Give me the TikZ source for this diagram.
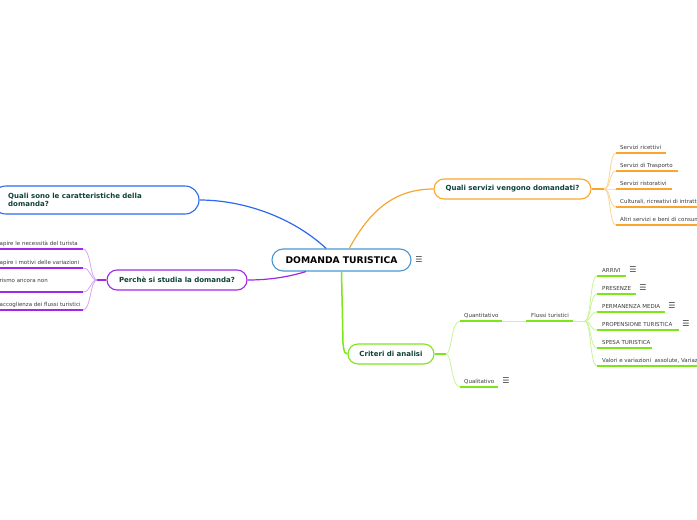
\documentclass[tikz,border=0pt]{standalone}
\usepackage{fontspec}
\setmainfont{DejaVu Sans}
\usetikzlibrary{calc}
\definecolor{cBlue}{RGB}{45,105,240}
\definecolor{cMain}{RGB}{75,150,210}
\definecolor{cOrange}{RGB}{250,165,45}
\definecolor{cOrangeL}{RGB}{253,212,150}
\definecolor{cPurple}{RGB}{160,40,230}
\definecolor{cPurpleL}{RGB}{215,165,245}
\definecolor{cGreen}{RGB}{125,230,25}
\definecolor{cGreenL}{RGB}{200,245,150}
\definecolor{tdark}{RGB}{15,65,55}
\definecolor{tgray}{RGB}{60,60,60}
\begin{document}
\begin{tikzpicture}[x=1pt,y=-1pt,
  box/.style={draw, line width=1.1pt, fill=white, inner sep=0pt, text=tdark,
    font=\fontsize{7}{8.5}\selectfont\bfseries},
  leaf/.style={anchor=base west, inner sep=0pt, text=tgray, font=\fontsize{5.5}{6.5}\selectfont},
  ul/.style={line width=1.7pt},
  twig/.style={line width=0.8pt},
  conn/.style={line width=1.2pt},
  menu/.style={inner sep=0pt, text=tgray, font=\fontsize{8}{8}\selectfont}]
\useasboundingbox (0,0) rectangle (697,520);
\fill[white] (0,0) rectangle (697,520);

% ---------- main node
\node[box, draw=cMain, text=black, minimum width=139, minimum height=22, rounded corners=11pt,
  font=\fontsize{9.2}{10}\selectfont\bfseries] (main) at (341.5,260) {DOMANDA TURISTICA};
\node[menu] (mmenu) at (419,260) {☰};

% ---------- blue branch
\node[box, draw=cBlue, minimum width=207, minimum height=28, rounded corners=14pt] (qcar) at (95.5,200) {};
\node[anchor=west, align=left, inner sep=0pt, text=tdark, font=\fontsize{7}{8}\selectfont\bfseries] (qcartxt) at (8,200)
  {Quali sono le caratteristiche della\\domanda?};
\draw[conn, cBlue] (main.143) .. controls (290,215) and (240,200) .. (qcar.east);

% ---------- orange branch
\node[box, draw=cOrange, minimum width=157, minimum height=20, rounded corners=10pt] (qsrv) at (512.5,189) {Quali servizi vengono domandati?};
\draw[conn, cOrange] (main.56) .. controls (370,210) and (395,189) .. (qsrv.west);
\coordinate (oj) at (604,189);
\draw[conn, cOrange] (qsrv.east) -- (oj);
\foreach \n/\y/\xe/\t in {o1/153/666/{Servizi ricettivi},
                          o2/171/678/{Servizi di Trasporto},
                          o3/189/672/{Servizi ristorativi},
                          o4/207/700/{Culturali, ricreativi di intratt},
                          o5/225/700/{Altri servizi e beni di consum}}{
  \coordinate (\n s) at (616,\y);
  \draw[twig, cOrangeL] (oj) .. controls (611,189) and (609,\y) .. (\n s);
  \draw[ul, cOrange] (\n s) -- (\xe,\y);
  \node[leaf] (\n) at (620,\y-3.8) {\t};
}

% ---------- purple branch
\node[box, draw=cPurple, minimum width=140, minimum height=20, rounded corners=10pt] (perche) at (177,280) {Perchè si studia la domanda?};
\draw[conn, cPurple] (main.198) .. controls (285,278) and (265,280) .. (perche.east);
\coordinate (pj) at (97,280);
\draw[conn, cPurple] (perche.west) -- (pj);
\foreach \n/\y/\ty/\t in {p1/249/243/{apire le necessità del turista},
                          p2/268/262/{apire i motivi delle variazioni},
                          p3/292/280/{rismo ancora non},
                          p4/310/304/{accoglienza dei flussi turistici}}{
  \coordinate (\n e) at (83,\y);
  \draw[twig, cPurpleL] (pj) .. controls (90,280) and (91,\y) .. (\n e);
  \draw[ul, cPurple] (-3,\y) -- (\n e);
  \node[leaf] (\n) at (-0.5,\ty+2.2) {\t};
}

% ---------- green branch
\node[box, draw=cGreen, minimum width=86, minimum height=20, rounded corners=10pt] (crit) at (391,354) {Criteri di analisi};
\draw[line width=1.5pt, cGreen] (main.south) -- (343,343) .. controls (344,353) and (345,354) .. (crit.west);
\coordinate (gj) at (446,354);
\draw[conn, cGreen] (crit.east) -- (gj);

\coordinate (qts) at (460,321);
\coordinate (qte) at (502,321);
\coordinate (qls) at (460,387);
\draw[twig, cGreenL] (gj) .. controls (452,354) and (451,321) .. (qts);
\draw[twig, cGreenL] (gj) .. controls (452,354) and (451,387) .. (qls);
\draw[ul, cGreen] (qts) -- (qte);
\node[leaf] (quant) at (464,317.2) {Quantitativo};
\draw[ul, cGreen] (qls) -- (498,387);
\node[leaf] (qual) at (464,383.2) {Qualitativo};
\node[menu] (qualmenu) at (506,380.5) {☰};

\coordinate (fls) at (526,321);
\coordinate (fle) at (573,321);
\draw[twig, cGreenL] (qte) -- (fls);
\draw[ul, cGreen] (fls) -- (fle);
\node[leaf] (flussi) at (531,317.2) {Flussi turistici};
\coordinate (fj) at (585,321);
\draw[twig, cGreenL] (fle) -- (fj);

\foreach \n/\y/\xe/\t in {g1/276/626/{ARRIVI},
                          g2/294/636/{PRESENZE},
                          g3/312/665/{PERMANENZA MEDIA},
                          g4/330/679/{PROPENSIONE TURISTICA},
                          g5/348/652/{SPESA TURISTICA},
                          g6/366/700/{Valori e variazioni\ \ assolute, Variaz}}{
  \coordinate (\n s) at (597,\y);
  \draw[twig, cGreenL] (fj) .. controls (591,321) and (590,\y) .. (\n s);
  \draw[ul, cGreen] (\n s) -- (\xe,\y);
  \node[leaf] (\n) at (602,\y-3.8) {\t};
}
\node[menu] (g1m) at (633,270) {☰};
\node[menu] (g2m) at (643,288) {☰};
\node[menu] (g3m) at (672,306) {☰};
\node[menu] (g4m) at (686,324) {☰};
\end{tikzpicture}
\end{document}
